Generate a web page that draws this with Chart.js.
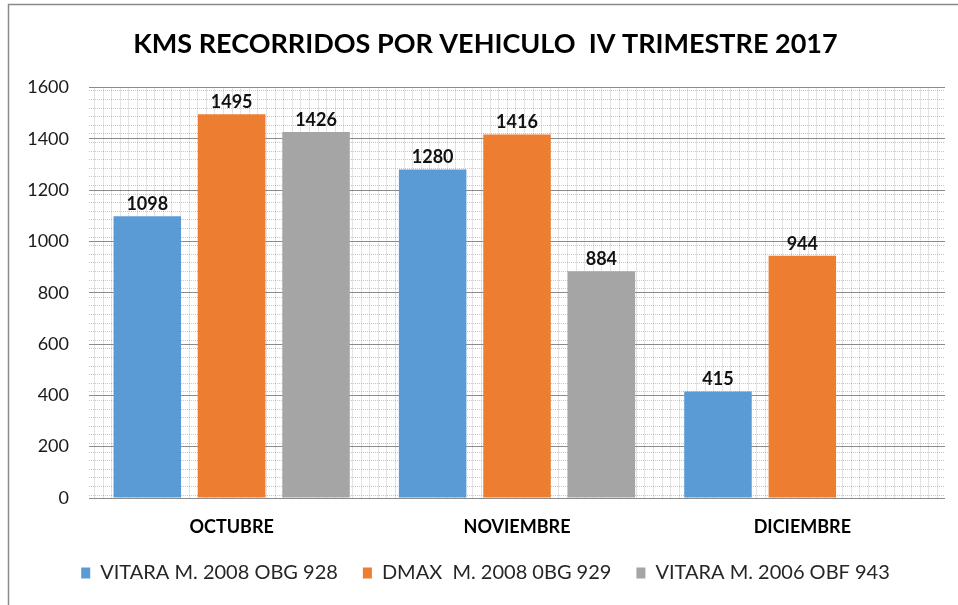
<!DOCTYPE html>
<html lang="es">
<head>
<meta charset="UTF-8">
<title>KMS recorridos por vehiculo</title>
<script src="https://cdn.jsdelivr.net/npm/chart.js"></script>
<style>
  html, body { margin: 0; padding: 0; background: #fff; }
  #wrap { width: 958px; height: 605px; position: relative; }
</style>
</head>
<body>
<div id="wrap"><canvas id="kmsChart"></canvas></div>
<script>
// datos
const meses = ['OCTUBRE', 'NOVIEMBRE', 'DICIEMBRE'];
const vitara2008 = [1098, 1280, 415];
const dmax2008 = [1495, 1416, 944];
const vitara2006 = [1426, 884, null];
const series = ['VITARA M. 2008 OBG 928', 'DMAX  M. 2008 0BG 929', 'VITARA M. 2006 OBF 943'];
const yTicks = [0, 200, 400, 600, 800, 1000, 1200, 1400, 1600];

const FONT = 'Lato, "Liberation Sans", sans-serif';

// fondo con trama de cuadricula punteada + marco
const fondo = {
  id: 'fondo',
  beforeDraw(chart) {
    const { ctx, chartArea: a } = chart;
    ctx.save();
    ctx.strokeStyle = '#8a8a8a';
    ctx.lineWidth = 1.5;
    ctx.beginPath();
    ctx.moveTo(8.5, chart.height);
    ctx.lineTo(8.5, 4.5);
    ctx.lineTo(chart.width, 4.5);
    ctx.stroke();

    ctx.beginPath();
    ctx.rect(a.left, a.top, a.right - a.left, a.bottom - a.top);
    ctx.clip();
    ctx.strokeStyle = 'rgba(0,0,0,0.22)';
    ctx.lineWidth = 1;
    ctx.setLineDash([1, 1]);
    const step = 8.6;
    ctx.beginPath();
    for (let x = a.left + 5; x < a.right; x += step) {
      const px = Math.round(x) + 0.5;
      ctx.moveTo(px, a.top);
      ctx.lineTo(px, a.bottom);
    }
    for (let y = a.top + 3; y < a.bottom; y += step) {
      const py = Math.round(y) + 0.5;
      ctx.moveTo(a.left, py);
      ctx.lineTo(a.right, py);
    }
    ctx.stroke();
    ctx.restore();
  }
};

// etiquetas de valor sobre cada barra
const etiquetas = {
  id: 'etiquetas',
  afterDatasetsDraw(chart) {
    const { ctx } = chart;
    ctx.save();
    ctx.font = 'bold 18px ' + FONT;
    ctx.fillStyle = '#111';
    ctx.textAlign = 'center';
    ctx.textBaseline = 'bottom';
    chart.data.datasets.forEach((ds, i) => {
      chart.getDatasetMeta(i).data.forEach((bar, j) => {
        const v = ds.data[j];
        if (v === null || v === undefined) return;
        ctx.fillText(String(v), bar.x, bar.y - 3);
      });
    });
    ctx.restore();
  }
};

new Chart(document.getElementById('kmsChart'), {
  type: 'bar',
  data: {
    labels: meses,
    datasets: [
      { label: series[0], data: vitara2008, backgroundColor: '#5B9BD5' },
      { label: series[1], data: dmax2008, backgroundColor: '#ED7D31' },
      { label: series[2], data: vitara2006, backgroundColor: '#A5A5A5' }
    ]
  },
  options: {
    responsive: true,
    maintainAspectRatio: false,
    animation: false,
    categoryPercentage: 0.887,
    barPercentage: 0.8,
    layout: { padding: { left: 26, right: 13, top: 0, bottom: 12 } },
    plugins: {
      tooltip: { enabled: false },
      title: {
        display: true,
        text: 'KMS RECORRIDOS POR VEHICULO  IV TRIMESTRE 2017',
        color: '#000',
        font: { family: FONT, size: 27, weight: 'bold' },
        padding: { top: 28, bottom: 27 }
      },
      legend: {
        position: 'bottom',
        labels: {
          color: '#262626',
          font: { family: FONT, size: 20 },
          boxWidth: 9,
          boxHeight: 11,
          padding: 25
        }
      }
    },
    scales: {
      x: {
        grid: { display: false },
        border: { display: false },
        ticks: {
          color: '#000',
          font: { family: FONT, size: 18, weight: 'bold' },
          padding: 10
        },
        afterFit(s) { s.height = 40; }
      },
      y: {
        min: 0,
        max: 1600,
        afterBuildTicks(s) { s.ticks = yTicks.map(v => ({ value: v })); },
        grid: { color: '#8c8c8c', lineWidth: 1, drawTicks: false },
        border: { display: false },
        ticks: {
          color: '#1a1a1a',
          font: { family: FONT, size: 18 },
          padding: 20,
          callback: v => String(v)
        },
        afterFit(s) { s.width = 63; }
      }
    }
  },
  plugins: [fondo, etiquetas]
});
</script>
</body>
</html>
